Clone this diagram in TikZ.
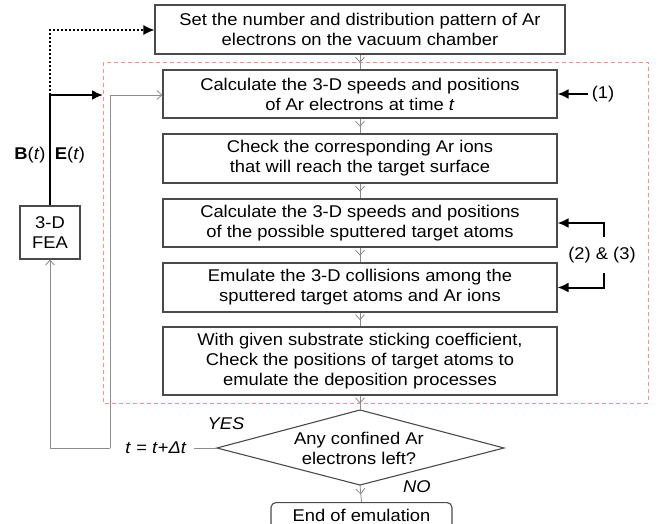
\documentclass[tikz,border=0pt]{standalone}
\usepackage{fontspec}
\setmainfont{Liberation Sans}[FakeStretch=1.08]
\usetikzlibrary{arrows.meta,decorations.markings,calc}
\definecolor{boxc}{HTML}{4A4A4A}
\definecolor{gl}{HTML}{8C8C8C}
\definecolor{redd}{HTML}{FF8C8C}
\newcommand{\fsz}{\fontsize{17}{20}\selectfont}
\begin{document}
\begin{tikzpicture}[x=1pt,y=-1pt,
  box/.style={draw=boxc, line width=1.1pt, minimum width=394pt, inner sep=0pt, align=center, font=\fsz},
  gline/.style={draw=gl, line width=0.8pt},
  gtip/.style={-{Straight Barb[length=5pt,width=9pt,line width=0.8pt]}},
  midtip/.style={gline, postaction={decorate}, decoration={markings, mark=at position 0.55 with {\arrow{Straight Barb[length=5pt,width=9pt,line width=0.8pt]}}}},
  bl/.style={draw=black, line width=2pt},
  btip/.style={-{Latex[length=11pt,width=10pt]}},
  lbl/.style={font=\fsz, inner sep=0pt}
]
\useasboundingbox (0,0) rectangle (664,524);
% red dashed region
\draw[redd, line width=0.9pt, dash pattern=on 4pt off 3pt] (103,62) rectangle (648,403);

\node[box, minimum width=410pt, minimum height=49pt] (top) at (360,29.5) {Set the number and distribution pattern of Ar\\electrons on the vacuum chamber};
\node[box, minimum height=48pt] (b1) at (360,94) {Calculate the 3-D speeds and positions\\of Ar electrons at time \textit{t}};
\node[box, minimum height=49pt] (b2) at (360,158.5) {Check the corresponding Ar ions\\that will reach the target surface};
\node[box, minimum height=48pt] (b3) at (360,223) {Calculate the 3-D speeds and positions\\of the possible sputtered target atoms};
\node[box, minimum height=49pt] (b4) at (360,287.5) {Emulate the 3-D collisions among the\\sputtered target atoms and Ar ions};
\node[box, minimum height=68pt] (b5) at (360,361) {With given substrate sticking coefficient,\\Check the positions of target atoms to\\emulate the deposition processes};

% decision diamond
\coordinate (dt) at (360,410);
\coordinate (db) at (360,485);
\coordinate (dl) at (217,448);
\coordinate (dr) at (504,448);
\draw[boxc, line width=1.1pt] (dt) -- (dr) -- (db) -- (dl) -- cycle;
\node[lbl, align=center] (dtext) at (359,448) {Any confined Ar\\electrons left?};

\node[box, minimum width=181pt, minimum height=26pt, rounded corners=5pt, anchor=north] (end) at (361.5,502) {\raisebox{-2pt}{End of emulation}};

% FEA box
\node[box, minimum width=60pt, minimum height=53pt, align=center] (fea) at (50,232.5) {3-D\\FEA};

% vertical gray arrows
\draw[midtip] (top.south) -- (b1.north);
\draw[midtip] (b1.south) -- (b2.north);
\draw[midtip] (b2.south) -- (b3.north);
\draw[midtip] (b3.south) -- (b4.north);
\draw[midtip] (b4.south) -- (b5.north);
\draw[midtip] (b5.south) -- (dt);
\draw[midtip] (db) -- (end.north);

% labels YES NO
\node[lbl, font=\fsz\itshape] (yes) at (226,424) {YES};
\node[lbl, font=\fsz\itshape] (no) at (417,487) {NO};

% loop back
\node[lbl, font=\fsz] (tt) at (156,448) {\textit{t} = \textit{t}+\textit{Δt}};
\draw[gline] (dl) -- (194,448);
\coordinate (jx) at (110,448);
\coordinate (jl) at (50,448);
\coordinate (ju) at (110,95);
\draw[gline, gtip] (jx) -- (jl) -- (fea.south);
\draw[gline, gtip] (jx) -- (ju) -- (b1.west |- ju);

% FEA outputs
\coordinate (fj) at (50,95);
\coordinate (fr) at (103,95);
\coordinate (fd) at (50,30);
\draw[bl, btip] (fea.north) -- (fj) -- (fr);
\draw[black, line width=1.3pt, dash pattern=on 2pt off 2pt, btip] (fj) -- (fd) -- (top.west |- fd);
\node[lbl] (bt) at (30,155) {\textbf{B}(\textit{t})};
\node[lbl] (et) at (70,155) {\textbf{E}(\textit{t})};

% right annotations
\node[lbl] (one) at (603,94) {(1)};
\draw[bl, btip] (one.west) ++(-4,0) coordinate (onew) (onew) -- (b1.east);
\node[lbl] (twothree) at (602,255) {(2) \& (3)};
\coordinate (c3a) at (604,237);
\coordinate (c3b) at (604,223);
\coordinate (c4a) at (604,273);
\coordinate (c4b) at (604,287.5);
\draw[bl, btip] (c3a) -- (c3b) -- (b3.east);
\draw[bl, btip] (c4a) -- (c4b) -- (b4.east);
\end{tikzpicture}
\end{document}
